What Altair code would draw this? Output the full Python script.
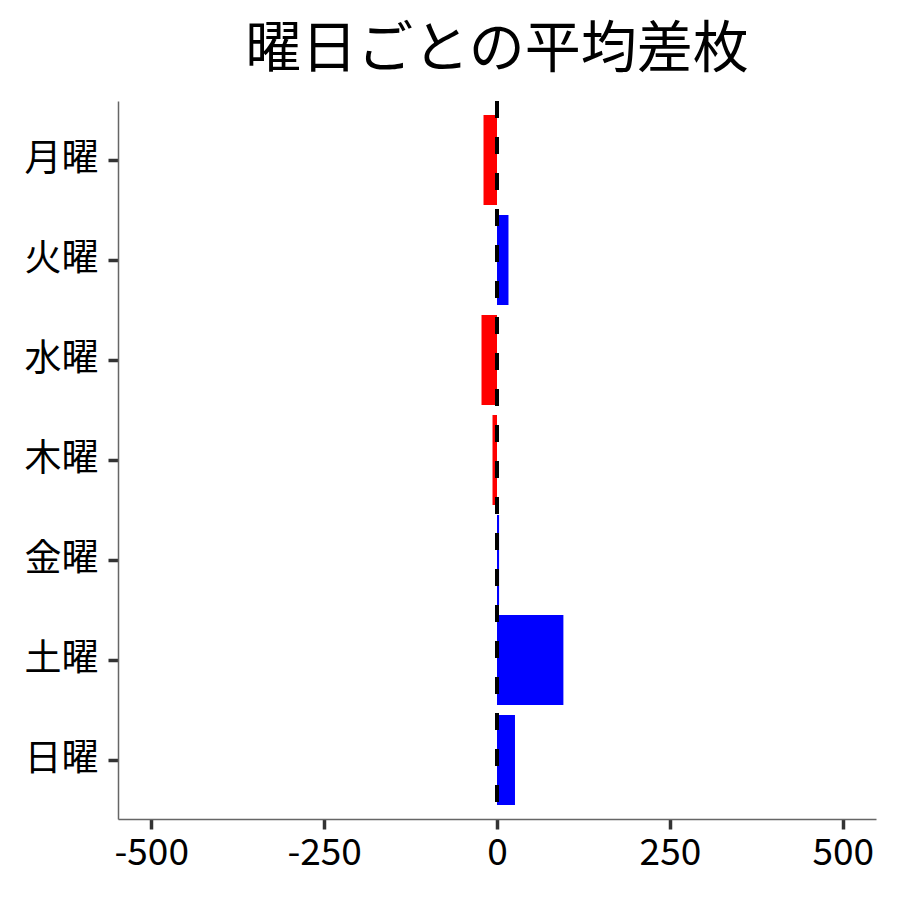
import altair as alt
import pandas as pd

days = ["月曜", "火曜", "水曜", "木曜", "金曜", "土曜", "日曜"]
avg_diff = [-19.5, 16.6, -22.4, -6.5, 3, 96, 26]
x_ticks = [-500, -250, 0, 250, 500]

df = pd.DataFrame({"day": days, "value": avg_diff})
zero = pd.DataFrame({"x": [0]})

FONT = "Noto Sans CJK JP"

bars = alt.Chart(df).mark_bar().encode(
    y=alt.Y("day:N", sort=days, title=None,
            scale=alt.Scale(paddingInner=0.1, paddingOuter=0.14)),
    x=alt.X("value:Q", title=None,
            scale=alt.Scale(domain=[-548, 548], nice=False, zero=False),
            axis=alt.Axis(values=x_ticks, labelExpr="'' + datum.value")),
    color=alt.condition(alt.datum.value < 0, alt.value("#ff0000"), alt.value("#0000ff")),
)

rule = alt.Chart(zero).mark_rule(color="black", strokeWidth=4, strokeDash=[17, 19]).encode(
    x="x:Q"
)

chart = alt.layer(bars, rule).properties(
    width=758,
    height=718,
    title=alt.TitleParams("曜日ごとの平均差枚", fontSize=56, font=FONT, fontWeight="normal",
                          anchor="middle", offset=20, color="black"),
    autosize=alt.AutoSizeParams(type="none"),
    padding={"left": 110, "top": 93, "right": 16, "bottom": 73},
).configure_view(stroke=None).configure_axis(
    grid=False,
    labelFont=FONT,
    labelFontSize=37,
    labelColor="black",
    domainColor="#666666",
    domainWidth=1.5,
    tickColor="#333333",
    tickWidth=3.5,
    tickSize=10,
    labelPadding=6,
).configure_axisY(labelPadding=10)

chart.save("out.html", embed_options={"renderer": "svg", "actions": False})
